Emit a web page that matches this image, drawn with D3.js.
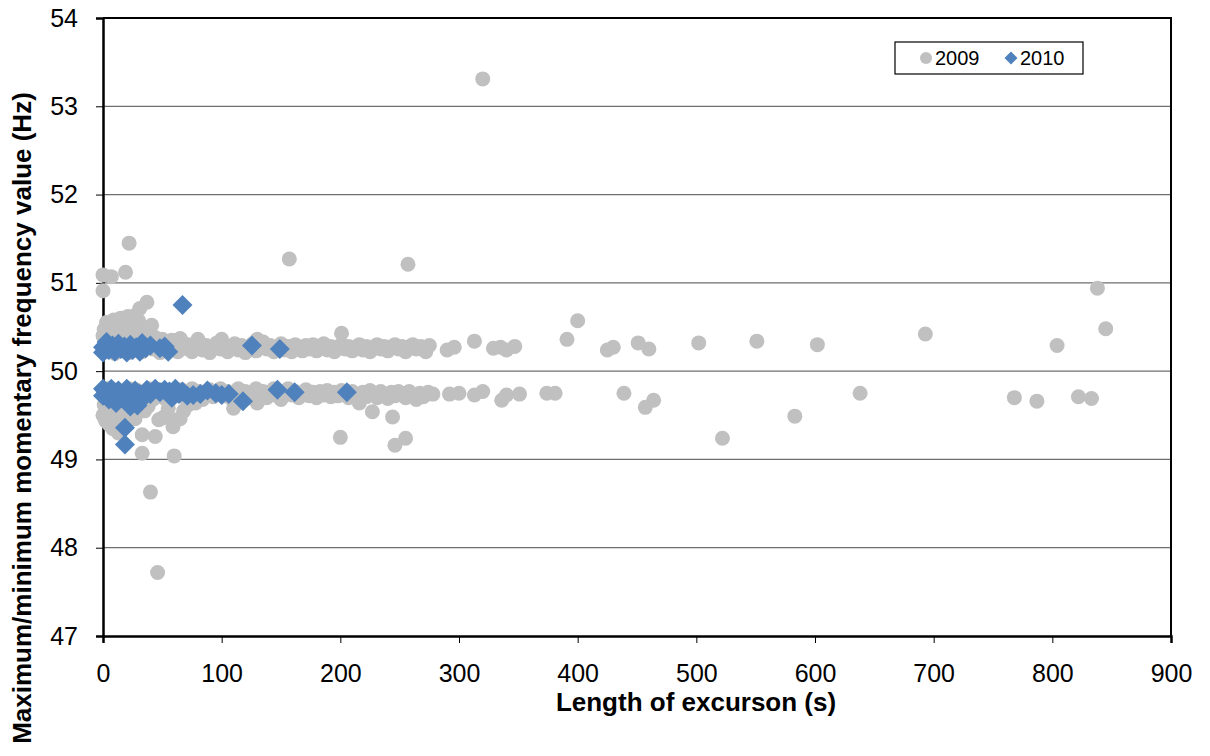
<!DOCTYPE html>
<html>
<head>
<meta charset="utf-8">
<script src="https://cdn.jsdelivr.net/npm/d3@7"></script>
<style>
  body { margin: 0; background: #fff; }
  text { font-family: Arial, "Liberation Sans", sans-serif; }
</style>
</head>
<body>
<div id="chart"></div>
<script>
// chart size and plot box
const width = 1210;
const height = 756;
const margin = {left: 103, right: 39, top: 18, bottom: 120};

// x ticks / y ticks
const xTicks = [0, 100, 200, 300, 400, 500, 600, 700, 800, 900];
const yTicks = [47, 48, 49, 50, 51, 52, 53, 54];
const seriesNames = ["2009", "2010"];

// 2009: [length (s), max/min frequency (Hz)]
const pts2009 = [
  // upper band
  [0,50.25],[2,50.3],[4,50.22],[6,50.28],[8,50.33],[10,50.2],[12,50.27],[14,50.31],[16,50.23],[18,50.29],
  [20,50.34],[22,50.21],[24,50.27],[26,50.32],[28,50.24],[30,50.3],[33,50.22],[36,50.28],[39,50.33],[42,50.25],
  [45,50.3],[48,50.21],[51,50.27],[54,50.32],[57,50.24],[60,50.29],[63,50.22],[66,50.34],[69,50.26],[72,50.3],
  [75,50.22],[78,50.28],[81,50.33],[84,50.24],[87,50.29],[90,50.21],[93,50.27],[96,50.32],[99,50.25],[102,50.29],
  [105,50.22],[108,50.27],[111,50.31],[114,50.24],[117,50.29],[120,50.21],[123,50.26],[126,50.31],[129,50.23],[132,50.28],
  [135,50.33],[138,50.25],[141,50.29],[144,50.22],[147,50.27],[150,50.31],[153,50.24],[156,50.28],[159,50.22],[162,50.3],
  [165,50.26],[168,50.23],[171,50.29],[174,50.25],[177,50.3],[180,50.23],[183,50.27],[186,50.31],[189,50.24],[192,50.28],
  [195,50.22],[198,50.27],[201,50.3],[204,50.25],[207,50.28],[210,50.23],[213,50.27],[216,50.3],[219,50.24],[222,50.28],
  [225,50.22],[228,50.26],[231,50.3],[234,50.25],[237,50.28],[240,50.23],[243,50.27],[246,50.3],[249,50.25],[252,50.28],
  [255,50.22],[258,50.27],[261,50.3],[264,50.25],[268,50.28],[272,50.22],[275,50.29],
  // cloud above the upper band near 0 s
  [0,50.4],[1,50.47],[3,50.55],[5,50.38],[6,50.5],[8,50.44],[9,50.58],[11,50.4],[12,50.52],[14,50.46],
  [15,50.6],[17,50.42],[18,50.55],[20,50.48],[21,50.62],[23,50.44],[24,50.56],[26,50.5],[27,50.63],[29,50.45],
  [30,50.57],[31,50.71],[33,50.48],[35,50.4],[37,50.78],[41,50.52],[44,50.38],[50,50.36],[58,50.35],[65,50.37],
  [80,50.36],[100,50.36],[130,50.36],
  // high outliers and sparse upper points
  [0,50.91],[0,51.09],[7,51.07],[19,51.12],[22,51.45],[157,51.27],[257,51.21],[320,53.31],[201,50.43],
  [290,50.24],[296,50.27],[313,50.34],[329,50.26],[335,50.27],[340,50.24],[347,50.28],[391,50.36],[400,50.57],
  [425,50.24],[430,50.27],[451,50.32],[460,50.25],[502,50.32],[551,50.34],[602,50.3],[693,50.42],[804,50.29],
  [838,50.94],[845,50.48],
  // lower band
  [0,49.78],[2,49.72],[4,49.8],[6,49.7],[8,49.76],[10,49.68],[12,49.79],[14,49.72],[16,49.66],[18,49.77],
  [20,49.7],[22,49.8],[24,49.67],[26,49.74],[28,49.79],[30,49.69],[33,49.76],[36,49.71],[39,49.8],[42,49.68],
  [45,49.75],[48,49.79],[51,49.7],[54,49.76],[57,49.68],[60,49.78],[63,49.72],[66,49.79],[69,49.7],[72,49.76],
  [75,49.8],[78,49.71],[81,49.77],[84,49.68],[87,49.74],[90,49.79],[93,49.71],[96,49.76],[99,49.8],[102,49.72],
  [105,49.77],[108,49.69],[111,49.75],[114,49.8],[117,49.72],[120,49.77],[123,49.7],[126,49.76],[129,49.8],[132,49.73],
  [135,49.77],[138,49.7],[141,49.76],[144,49.8],[147,49.72],[150,49.68],[153,49.76],[156,49.8],[159,49.73],[162,49.77],
  [165,49.7],[168,49.75],[171,49.79],[174,49.72],[177,49.76],[180,49.7],[183,49.77],[186,49.73],[189,49.78],[192,49.71],
  [195,49.76],[198,49.72],[201,49.78],[204,49.74],[207,49.7],[210,49.77],[213,49.73],[216,49.64],[219,49.76],[222,49.71],
  [225,49.78],[228,49.74],[231,49.7],[234,49.77],[237,49.73],[240,49.69],[243,49.76],[246,49.72],[249,49.77],[252,49.74],
  [255,49.7],[258,49.77],[261,49.73],[264,49.68],[267,49.75],[270,49.71],[274,49.76],[278,49.74],
  // cloud below the lower band near 0 s
  [0,49.5],[1,49.62],[2,49.44],[3,49.56],[4,49.66],[5,49.4],[6,49.52],[7,49.6],[8,49.35],[9,49.47],
  [10,49.58],[11,49.42],[12,49.54],[13,49.3],[14,49.5],[15,49.62],[16,49.38],[17,49.48],[19,49.57],[21,49.44],
  [23,49.52],[25,49.6],[27,49.46],[29,49.55],[31,49.62],[33,49.28],[35,49.55],[38,49.6],[44,49.26],[47,49.45],
  [50,49.47],[53,49.5],[55,49.58],[59,49.37],[62,49.45],[65,49.46],[68,49.55],[72,49.62],[78,49.64],[110,49.58],
  [130,49.64],
  // low outliers and sparse lower points
  [33,49.07],[60,49.04],[40,48.63],[46,47.72],[200,49.25],[227,49.54],[244,49.48],[246,49.16],[255,49.24],
  [292,49.74],[300,49.75],[313,49.73],[320,49.77],[336,49.67],[340,49.73],[351,49.74],[374,49.75],[381,49.75],
  [439,49.75],[457,49.59],[464,49.67],[522,49.24],[583,49.49],[638,49.75],[768,49.7],[787,49.66],[822,49.71],
  [833,49.69]
];

// 2010: [length (s), max/min frequency (Hz)]
const pts2010 = [
  [0,50.27],[0,50.21],[3,50.33],[5,50.24],[8,50.29],[10,50.22],[13,50.31],[15,50.25],[18,50.28],[20,50.21],
  [23,50.3],[25,50.24],[28,50.27],[31,50.22],[33,50.32],[36,50.26],[40,50.29],[48,50.26],[52,50.28],[55,50.22],
  [67,50.75],[125.5,50.29],[149,50.25],
  [0,49.8],[0,49.72],[3,49.76],[5,49.68],[7,49.8],[9,49.73],[11,49.64],[13,49.78],[15,49.7],[18,49.75],
  [20,49.8],[22,49.66],[24,49.72],[27,49.78],[29,49.61],[31,49.74],[34,49.7],[37,49.79],[40,49.74],[44,49.8],
  [48,49.76],[52,49.79],[56,49.77],[58,49.7],[61,49.8],[64,49.74],[67,49.77],[71,49.72],[76,49.73],[82,49.74],
  [88,49.78],[95,49.75],[100,49.73],[106,49.74],[118,49.66],[147,49.79],[161.5,49.76],[205.5,49.76],
  [18.5,49.36],[18.5,49.17],[23,49.6]
];

const grey = "#c0c0c0";
const blue = "#4f81bd";

const svg = d3.select("#chart")
  .append("svg")
  .attr("width", width)
  .attr("height", height);

svg.append("rect").attr("width", width).attr("height", height).attr("fill", "#fff");

const x = d3.scaleLinear()
  .domain([0, 900])
  .range([margin.left, width - margin.right]);

const y = d3.scaleLinear()
  .domain([47, 54])
  .range([height - margin.bottom, margin.top]);

// gridlines
svg.append("g")
  .selectAll("line")
  .data(yTicks.slice(1, -1))
  .enter()
  .append("line")
    .attr("x1", x(0))
    .attr("x2", x(900))
    .attr("y1", d => y(d))
    .attr("y2", d => y(d))
    .attr("stroke", "#6e6e6e")
    .attr("stroke-width", 1.3);

// frame top/right
svg.append("path")
  .attr("d", `M${x(0)},${y(54)}H${x(900)}V${y(47)}`)
  .attr("fill", "none")
  .attr("stroke", "#000")
  .attr("stroke-width", 2);

// axes
const xAxis = svg.append("g")
  .attr("transform", `translate(0,${y(47)})`)
  .call(d3.axisBottom(x).tickValues(xTicks).tickSize(7).tickPadding(21));

const yAxis = svg.append("g")
  .attr("transform", `translate(${x(0)},0)`)
  .call(d3.axisLeft(y).tickValues(yTicks).tickFormat(d3.format("d")).tickSize(7).tickPadding(18));

[xAxis, yAxis].forEach(a => {
  a.select(".domain").attr("stroke", "#000").attr("stroke-width", 2.5);
  a.selectAll(".tick line").attr("stroke", "#000").attr("stroke-width", 1);
  a.selectAll("text").attr("font-size", "25px").attr("fill", "#000")
    .attr("font-family", "Arial, 'Liberation Sans', sans-serif");
});

// 2009 circles
svg.append("g")
  .selectAll("circle")
  .data(pts2009)
  .enter()
  .append("circle")
    .attr("cx", d => x(d[0]))
    .attr("cy", d => y(d[1]))
    .attr("r", 7.5)
    .attr("fill", grey);

// 2010 diamonds
svg.append("g")
  .selectAll("path")
  .data(pts2010)
  .enter()
  .append("path")
    .attr("transform", d => `translate(${x(d[0])},${y(d[1])})`)
    .attr("d", "M0,-10L10,0L0,10L-10,0Z")
    .attr("fill", blue);

// axis titles
svg.append("text")
  .attr("x", 696)
  .attr("y", 711)
  .attr("text-anchor", "middle")
  .attr("font-size", "26px")
  .attr("font-weight", "bold")
  .text("Length of excurson (s)");

svg.append("text")
  .attr("transform", "translate(31,418) rotate(-90)")
  .attr("text-anchor", "middle")
  .attr("font-size", "26px")
  .attr("font-weight", "bold")
  .text("Maximum/minimum momentary frequency value (Hz)");

// legend
const legend = svg.append("g");
legend.append("rect")
  .attr("x", 895).attr("y", 42)
  .attr("width", 188).attr("height", 32)
  .attr("fill", "#fff")
  .attr("stroke", "#000")
  .attr("stroke-width", 1.2);

legend.append("circle").attr("cx", 926).attr("cy", 58).attr("r", 6).attr("fill", grey);
legend.append("text").attr("x", 935).attr("y", 65).attr("font-size", "20px").text(seriesNames[0]);
legend.append("path")
  .attr("transform", "translate(1011,58)")
  .attr("d", "M0,-6.5L6.5,0L0,6.5L-6.5,0Z")
  .attr("fill", blue);
legend.append("text").attr("x", 1020).attr("y", 65).attr("font-size", "20px").text(seriesNames[1]);
</script>
</body>
</html>
